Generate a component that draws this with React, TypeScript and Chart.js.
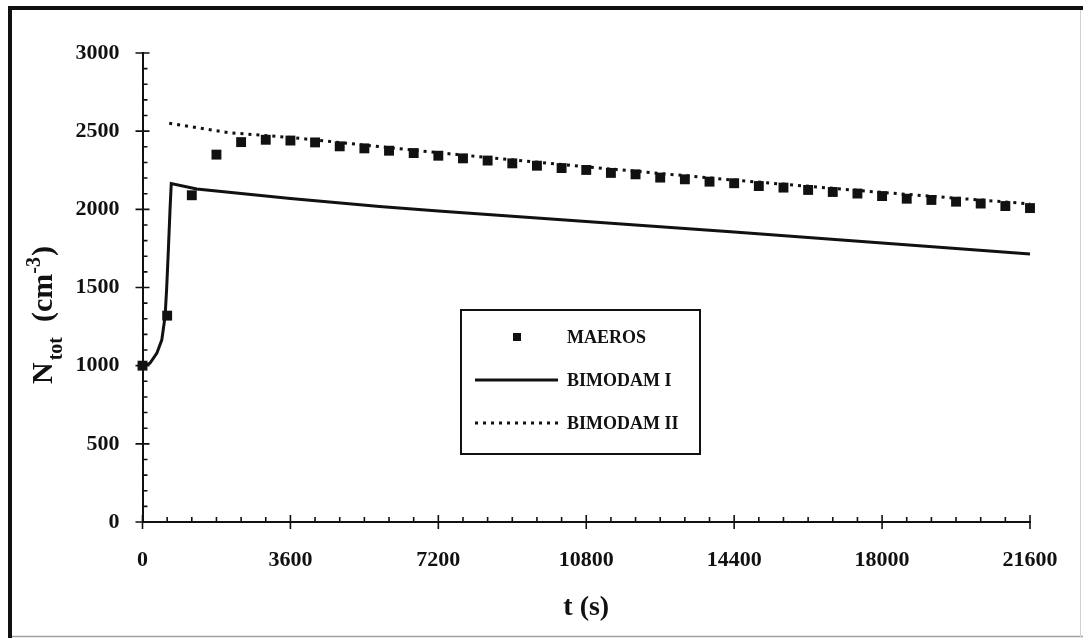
import { useEffect, useRef } from "react";
import { Chart, registerables } from "chart.js";

Chart.register(...registerables);

const FONT = '"Liberation Serif", "Times New Roman", Times, serif';
const INK = "#111111";

// Total number concentration from the sectional model, sampled every 600 s
const maerosTime = [
  0, 600, 1200, 1800, 2400, 3000, 3600, 4200, 4800, 5400, 6000, 6600, 7200,
  7800, 8400, 9000, 9600, 10200, 10800, 11400, 12000, 12600, 13200, 13800,
  14400, 15000, 15600, 16200, 16800, 17400, 18000, 18600, 19200, 19800,
  20400, 21000, 21600,
];
const maerosConc = [
  1000, 1320, 2090, 2350, 2430, 2445, 2440, 2428, 2403, 2390, 2375, 2360,
  2343, 2326, 2312, 2294, 2279, 2264, 2252, 2233, 2224, 2203, 2192, 2177,
  2167, 2149, 2139, 2124, 2111, 2101, 2085, 2068, 2060, 2049, 2037, 2021,
  2008,
];

// Bimodal model, variant I
const bimodamITime = [
  0, 180, 350, 470, 550, 590, 630, 670, 700, 1320, 3600, 5770, 7200, 10800,
  14400, 18000, 21600,
];
const bimodamIConc = [
  1000, 1015, 1080, 1165, 1315, 1505, 1745, 2000, 2165, 2130, 2070, 2018,
  1990, 1922, 1855, 1785, 1715,
];

// Bimodal model, variant II
const bimodamIITime = [650, 2100, 3600, 7200, 10800, 14400, 18000, 21600];
const bimodamIIConc = [2550, 2490, 2460, 2362, 2272, 2187, 2108, 2035];

const xTicks = [0, 3600, 7200, 10800, 14400, 18000, 21600];
const yTicks = [0, 500, 1000, 1500, 2000, 2500, 3000];
const xMinorStep = 600;
const yMinorStep = 100;

const seriesLabels = ["MAEROS", "BIMODAM I", "BIMODAM II"];

const toPoints = (xs: number[], ys: number[]) =>
  xs.map((x, i) => ({ x, y: ys[i] }));

const decorations = {
  id: "decorations",
  beforeDraw(chart: any) {
    const { ctx, width, height } = chart;
    ctx.save();
    ctx.fillStyle = "#ffffff";
    ctx.fillRect(0, 0, width, height);
    // outer frame: heavy left/top edges, faint right/bottom edges
    ctx.strokeStyle = "#a0a0a0";
    ctx.lineWidth = 1.5;
    ctx.beginPath();
    ctx.moveTo(10, 636.5);
    ctx.lineTo(1083, 636.5);
    ctx.stroke();
    ctx.strokeStyle = "#d0d0d0";
    ctx.lineWidth = 1;
    ctx.beginPath();
    ctx.moveTo(1080.5, 8);
    ctx.lineTo(1080.5, 637);
    ctx.stroke();
    ctx.strokeStyle = INK;
    ctx.lineWidth = 4;
    ctx.beginPath();
    ctx.moveTo(10, 638);
    ctx.lineTo(10, 8);
    ctx.lineTo(1083, 8);
    ctx.stroke();
    ctx.restore();
  },
  afterDraw(chart: any) {
    const { ctx, chartArea } = chart;
    const xs = chart.scales.x;
    const ys = chart.scales.y;
    ctx.save();
    ctx.strokeStyle = INK;
    ctx.lineWidth = 1.6;

    // x-axis ticks: majors cross the axis, minors point inward
    const ax = chartArea.bottom;
    ctx.beginPath();
    for (let v = xs.min; v <= xs.max + 0.5; v += xMinorStep) {
      const px = xs.getPixelForValue(v);
      if (xTicks.includes(v)) {
        ctx.moveTo(px, ax - 7);
        ctx.lineTo(px, ax + 7);
      } else {
        ctx.moveTo(px, ax - 5);
        ctx.lineTo(px, ax);
      }
    }
    // y-axis ticks
    const ay = chartArea.left;
    for (let v = ys.min; v <= ys.max + 0.5; v += yMinorStep) {
      const py = ys.getPixelForValue(v);
      if (yTicks.includes(v)) {
        ctx.moveTo(ay - 7, py);
        ctx.lineTo(ay + 7, py);
      } else {
        ctx.moveTo(ay, py);
        ctx.lineTo(ay + 5, py);
      }
    }
    ctx.stroke();

    // y-axis title with subscript and superscript
    ctx.save();
    ctx.translate(52, 384);
    ctx.rotate(-Math.PI / 2);
    ctx.fillStyle = INK;
    ctx.textAlign = "left";
    ctx.textBaseline = "alphabetic";
    const big = `bold 30px ${FONT}`;
    const small = `bold 20px ${FONT}`;
    const parts: [string, string, number, number][] = [
      ["N", big, 0, 2],
      ["tot", small, 10, 0],
      ["  (cm", big, 0, 0],
      ["-3", small, -12, 1],
      [")", big, 0, 0],
    ];
    let cx = 0;
    for (const [t, f, dy, gap] of parts) {
      ctx.font = f;
      ctx.fillText(t, cx, dy);
      cx += ctx.measureText(t).width + gap;
    }
    ctx.restore();

    // legend box
    const box = { left: 461, top: 310, right: 700, bottom: 454 };
    ctx.lineWidth = 2;
    ctx.strokeRect(box.left, box.top, box.right - box.left, box.bottom - box.top);
    const rows = [337, 380, 423];
    const sx0 = 475;
    const sx1 = 558;
    ctx.font = `bold 18px ${FONT}`;
    ctx.textAlign = "left";
    ctx.textBaseline = "middle";
    chart.data.datasets.forEach((ds: any, i: number) => {
      const y = rows[i];
      if (ds.showLine === false) {
        ctx.fillStyle = INK;
        ctx.fillRect(513, y - 4, 8, 8);
      } else {
        ctx.strokeStyle = ds.borderColor;
        ctx.lineWidth = ds.borderWidth;
        ctx.setLineDash(ds.borderDash || []);
        ctx.beginPath();
        ctx.moveTo(sx0, y);
        ctx.lineTo(sx1, y);
        ctx.stroke();
        ctx.setLineDash([]);
      }
      ctx.fillStyle = INK;
      ctx.fillText(ds.label, 567, y + 1);
    });
    ctx.restore();
  },
};

export default function App() {
  const canvasRef = useRef<HTMLCanvasElement | null>(null);

  useEffect(() => {
    const canvas = canvasRef.current;
    if (!canvas) return;
    const chart = new Chart(canvas, {
      type: "line",
      data: {
        datasets: [
          {
            label: seriesLabels[0],
            data: toPoints(maerosTime, maerosConc),
            showLine: false,
            pointStyle: "rect",
            pointRadius: 7,
            pointBorderWidth: 0,
            pointBackgroundColor: INK,
            borderColor: INK,
            clip: false as any,
          },
          {
            label: seriesLabels[1],
            data: toPoints(bimodamITime, bimodamIConc),
            borderColor: INK,
            borderWidth: 3,
            pointRadius: 0,
            tension: 0,
            fill: false,
            clip: false as any,
          },
          {
            label: seriesLabels[2],
            data: toPoints(bimodamIITime, bimodamIIConc),
            borderColor: INK,
            borderWidth: 3,
            borderDash: [3, 5],
            pointRadius: 0,
            tension: 0,
            fill: false,
            clip: false as any,
          },
        ],
      },
      options: {
        responsive: false,
        animation: false,
        devicePixelRatio: 1,
        layout: { padding: { left: 0, right: 53, top: 53, bottom: 0 } },
        plugins: {
          legend: { display: false },
          tooltip: { enabled: false },
        },
        scales: {
          x: {
            type: "linear",
            min: 0,
            max: 21600,
            grid: { display: false, drawTicks: false },
            border: { display: true, color: INK, width: 2 },
            afterBuildTicks: (s: any) => {
              s.ticks = xTicks.map((v) => ({ value: v }));
            },
            afterFit: (s: any) => {
              s.height = 116;
            },
            ticks: {
              color: INK,
              padding: 25,
              maxRotation: 0,
              autoSkip: false,
              font: { family: FONT, size: 22, weight: "bold" },
              callback: (v: any) => String(v),
            },
            title: {
              display: true,
              text: "t (s)",
              color: INK,
              font: { family: FONT, size: 28, weight: "bold" },
              padding: { top: 0, bottom: 13 },
            },
          },
          y: {
            type: "linear",
            min: 0,
            max: 3000,
            grid: { display: false, drawTicks: false },
            border: { display: true, color: INK, width: 2 },
            afterBuildTicks: (s: any) => {
              s.ticks = yTicks.map((v) => ({ value: v }));
            },
            afterFit: (s: any) => {
              s.width = 142.5;
            },
            ticks: {
              color: INK,
              padding: 23,
              autoSkip: false,
              font: { family: FONT, size: 22, weight: "bold" },
              callback: (v: any) => String(v),
            },
          },
        },
      },
      plugins: [decorations],
    });
    return () => chart.destroy();
  }, []);

  return (
    <div
      style={{
        position: "absolute",
        left: 0,
        top: 0,
        width: 1083,
        height: 638,
        background: "#ffffff",
      }}
    >
      <canvas
        ref={canvasRef}
        width={1083}
        height={638}
        style={{ display: "block", width: 1083, height: 638 }}
      />
    </div>
  );
}
